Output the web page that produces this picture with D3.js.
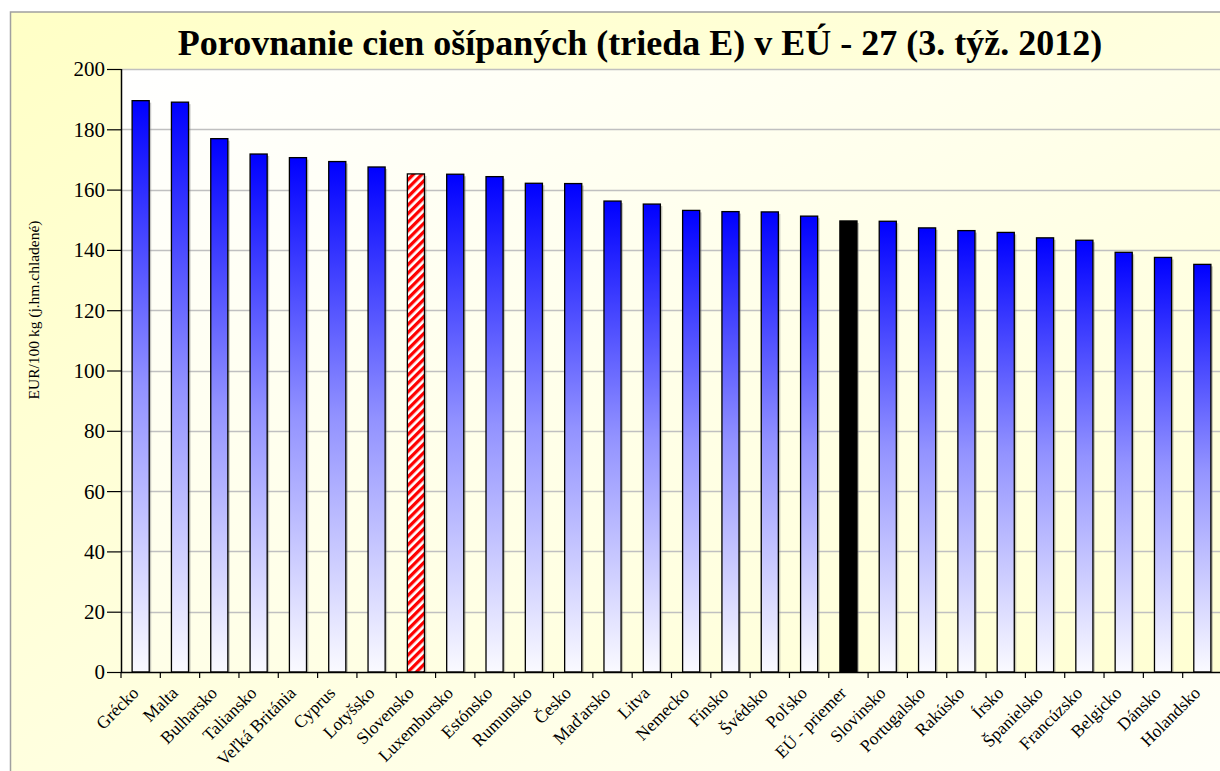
<!DOCTYPE html>
<html><head><meta charset="utf-8">
<script src="https://cdn.jsdelivr.net/npm/d3@7"></script>
<style>html,body{margin:0;padding:0;background:#fff;overflow:hidden} text{font-family:'Liberation Serif','Times New Roman',serif}</style>
</head><body>
<svg id="c" width="1220" height="771"></svg>
<script>
const categories = ["Grécko","Malta","Bulharsko","Taliansko","Veľká Británia","Cyprus","Lotyšsko","Slovensko","Luxembursko","Estónsko","Rumunsko","Česko","Maďarsko","Litva","Nemecko","Fínsko","Švédsko","Poľsko","EÚ - priemer","Slovinsko","Portugalsko","Rakúsko","Írsko","Španielsko","Francúzsko","Belgicko","Dánsko","Holandsko"];
const values = [189.5,189.0,176.9,171.8,170.6,169.3,167.5,165.2,165.1,164.3,162.1,162.0,156.2,155.2,153.1,152.7,152.6,151.2,149.6,149.5,147.3,146.4,145.8,144.0,143.2,139.2,137.5,135.2];
const yTicks = [0,20,40,60,80,100,120,140,160,180,200];
const highlightCountry = "Slovensko";
const averageLabel = "EÚ - priemer";
const titleText = "Porovnanie cien ošípaných (trieda E) v EÚ - 27 (3. týž. 2012)";
const yTitle = "EUR/100 kg (j.hm.chladené)";

const svg = d3.select("#c");
const W = 1220, H = 771;
const plot = {l:121, r:1222, t:69, b:672};
const serif = "'Liberation Serif','Times New Roman',serif";

const defs = svg.append("defs");
const og = defs.append("linearGradient").attr("id","outerG").attr("x1","0").attr("y1","0").attr("x2","1").attr("y2","1");
og.append("stop").attr("offset","0").attr("stop-color","#FFFFC6");
og.append("stop").attr("offset","1").attr("stop-color","#FFFFF8");
const pg = defs.append("linearGradient").attr("id","plotG").attr("x1","0").attr("y1","0").attr("x2","1").attr("y2","1");
pg.append("stop").attr("offset","0").attr("stop-color","#FFFFFF");
pg.append("stop").attr("offset","1").attr("stop-color","#FFFFD2");
const bg = defs.append("linearGradient").attr("id","barG").attr("x1","0").attr("y1","0").attr("x2","0").attr("y2","1");
bg.append("stop").attr("offset","0").attr("stop-color","#0000FF");
bg.append("stop").attr("offset","0.5").attr("stop-color","#9292FF");
bg.append("stop").attr("offset","1").attr("stop-color","#FAFAFF");
const pat = defs.append("pattern").attr("id","stripes").attr("patternUnits","userSpaceOnUse")
  .attr("width",6).attr("height",10).attr("patternTransform","rotate(45)");
pat.append("rect").attr("width",6).attr("height",10).attr("fill","#FFFFFF");
pat.append("rect").attr("width",3.3).attr("height",10).attr("fill","#FF0000");

// outer chart area
svg.append("rect").attr("x",0).attr("y",0).attr("width",W).attr("height",H).attr("fill","#FFFFFF");
svg.append("rect").attr("x",10.5).attr("y",12).attr("width",W).attr("height",H).attr("fill","url(#outerG)")
  .attr("stroke","#A0A0A0").attr("stroke-width",1.5);

// plot area
svg.append("rect").attr("x",plot.l).attr("y",plot.t).attr("width",plot.r-plot.l).attr("height",plot.b-plot.t).attr("fill","url(#plotG)");

const x = d3.scaleBand().domain(categories).range([plot.l, plot.r]).paddingInner(1.3/2.3).paddingOuter(0.65/2.3);
const xb = d3.scaleBand().domain(categories).range([plot.l, plot.r]);
const y = d3.scaleLinear().domain([0,200]).range([plot.b, plot.t]);

// gridlines
svg.append("g").selectAll("line").data(yTicks.filter(d=>d>0)).join("line")
  .attr("x1",plot.l).attr("x2",plot.r).attr("y1",d=>Math.round(y(d))+0.5).attr("y2",d=>Math.round(y(d))+0.5)
  .attr("stroke","#C0C0C0").attr("stroke-width",1.5);

// bars
const data = categories.map((c,i)=>({c, v:values[i]}));
svg.append("g").selectAll("rect").data(data).join("rect")
  .attr("x",d=>x(d.c)+2).attr("y",d=>y(d.v)+2).attr("width",x.bandwidth()).attr("height",d=>plot.b-y(d.v)-2)
  .attr("fill","#808080").attr("opacity",0.45);
svg.append("g").selectAll("rect").data(data).join("rect")
  .attr("x",d=>x(d.c)).attr("y",d=>y(d.v)).attr("width",x.bandwidth()).attr("height",d=>plot.b-y(d.v))
  .attr("fill",d=>d.c===highlightCountry?"url(#stripes)":(d.c===averageLabel?"#000000":"url(#barG)"))
  .attr("stroke","#000").attr("stroke-width",1.3);

// y axis
const ya = svg.append("g").attr("transform",`translate(${plot.l},0)`)
  .call(d3.axisLeft(y).tickValues(yTicks).tickSize(14).tickPadding(2).tickFormat(d3.format("d")))
  .attr("font-family",serif).attr("font-size",21);
ya.select(".domain").attr("stroke","#000").attr("stroke-width",1.5).attr("d",`M0.5,${plot.t}V${plot.b}`);
ya.selectAll(".tick line").attr("stroke","#000").attr("stroke-width",1.2);
ya.selectAll(".tick text").attr("font-family",serif).attr("font-size",21).attr("fill","#000").attr("dy","0.33em");

// x axis
const xa = svg.append("g").attr("transform",`translate(0,${plot.b})`).attr("font-family",serif);
xa.append("line").attr("x1",plot.l).attr("x2",plot.r).attr("y1",0.5).attr("y2",0.5).attr("stroke","#000").attr("stroke-width",1.5);
xa.selectAll("line.tk").data(categories).join("line").attr("class","tk")
  .attr("x1",d=>xb(d)).attr("x2",d=>xb(d)).attr("y1",0).attr("y2",6).attr("stroke","#000").attr("stroke-width",1.2);
xa.selectAll("text").data(categories).join("text")
  .attr("transform",d=>`translate(${xb(d)+xb.bandwidth()/2-1},${22}) rotate(-45)`)
  .attr("text-anchor","end").attr("font-family",serif).attr("font-size",17.5).attr("fill","#000")
  .text(d=>d);

// titles
svg.append("text").attr("x",640).attr("y",55).attr("text-anchor","middle")
  .attr("font-family",serif).attr("font-weight","bold").attr("font-size",36).attr("fill","#000").text(titleText);
svg.append("text").attr("transform","translate(39,310) rotate(-90)").attr("text-anchor","middle")
  .attr("font-family",serif).attr("font-size",15.5).attr("fill","#000").text(yTitle);
</script>
</body></html>
